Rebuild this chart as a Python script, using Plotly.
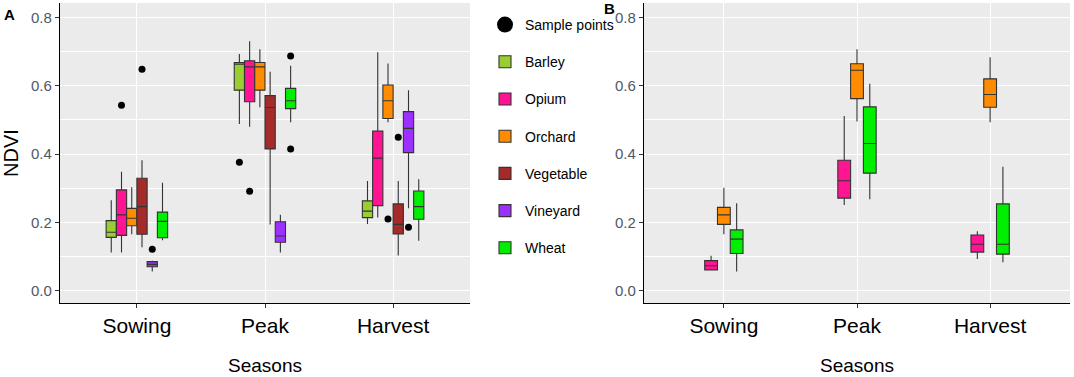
import plotly.graph_objects as go

# ---------------- data ----------------
seasons = ["Sowing", "Peak", "Harvest"]

crops_a = ["Barley", "Opium", "Orchard", "Vegetable", "Vineyard", "Wheat"]
colors = {
    "Barley": "#9ACD32",
    "Opium": "#FF1493",
    "Orchard": "#FF8C00",
    "Vegetable": "#A52A2A",
    "Vineyard": "#9B30FF",
    "Wheat": "#00EE00",
}

# Panel A statistics, rows = crops_a, columns = seasons
a_lower = [[0.112, 0.488, 0.195], [0.112, 0.480, 0.214], [0.165, 0.537, 0.493],
           [0.127, 0.194, 0.103], [0.056, 0.112, 0.241], [0.148, 0.493, 0.146]]
a_q1 = [[0.156, 0.587, 0.214], [0.162, 0.553, 0.249], [0.190, 0.587, 0.504],
        [0.165, 0.415, 0.166], [0.070, 0.142, 0.404], [0.155, 0.533, 0.209]]
a_median = [[0.171, 0.663, 0.233], [0.222, 0.655, 0.388], [0.212, 0.655, 0.556],
            [0.246, 0.536, 0.194], [0.077, 0.160, 0.475], [0.203, 0.556, 0.246]]
a_q3 = [[0.205, 0.668, 0.263], [0.295, 0.673, 0.467], [0.241, 0.668, 0.602],
        [0.329, 0.571, 0.254], [0.085, 0.202, 0.524], [0.230, 0.592, 0.292]]
a_upper = [[0.265, 0.693, 0.321], [0.348, 0.730, 0.698], [0.303, 0.707, 0.665],
           [0.382, 0.641, 0.321], [0.088, 0.222, 0.587], [0.316, 0.658, 0.326]]
a_outliers = [[[], [0.376], []], [[0.543], [0.291], []], [[], [], [0.210]],
              [[0.648], [], [0.449]], [[0.121], [], [0.186]], [[], [0.687, 0.415], []]]

# Panel B statistics, rows = crops_b, columns = seasons
crops_b = ["Opium", "Orchard", "Wheat"]
b_lower = [[0.060, 0.251, 0.093], [0.165, 0.495, 0.493], [0.056, 0.268, 0.083]]
b_q1 = [[0.061, 0.271, 0.113], [0.194, 0.562, 0.537], [0.109, 0.344, 0.107]]
b_median = [[0.073, 0.322, 0.136], [0.222, 0.645, 0.574], [0.151, 0.431, 0.136]]
b_q3 = [[0.088, 0.382, 0.163], [0.244, 0.664, 0.620], [0.178, 0.538, 0.254]]
b_upper = [[0.102, 0.511, 0.174], [0.301, 0.707, 0.683], [0.256, 0.606, 0.363]]

y_ticks = [0.0, 0.2, 0.4, 0.6, 0.8]

# ---------------- figure ----------------
W, H = 1074, 377
BASE_FONT = "Liberation Sans, Arial, sans-serif"
TICK_COLOR = "#4f5868"
LINE_COLOR = "#333333"

fig = go.Figure()

# legend-only entry for the outlier points
fig.add_trace(go.Scatter(
    x=[None], y=[None], mode="markers", name="Sample points",
    marker=dict(color="black", size=16), legendgroup="pts",
    xaxis="x", yaxis="y", hoverinfo="skip",
))

for i, crop in enumerate(crops_a):
    pts = [o if o else [None] for o in a_outliers[i]]
    fig.add_trace(go.Box(
        x=seasons, y=pts,
        q1=a_q1[i], median=a_median[i], q3=a_q3[i],
        lowerfence=a_lower[i], upperfence=a_upper[i],
        orientation="v",
        name=crop, legendgroup=crop, showlegend=True,
        offsetgroup="a" + crop, alignmentgroup="A",
        fillcolor=colors[crop],
        line=dict(color=LINE_COLOR, width=1.1),
        whiskerwidth=0,
        boxpoints="outliers", jitter=0, pointpos=0,
        marker=dict(color="black", size=7, line=dict(width=0)),
        xaxis="x", yaxis="y", hoverinfo="skip",
    ))

# panel B: pad the dodge with hidden groups so the three boxes stay centred
b_groups = ["pad0"] + crops_b + ["pad1"]
for g in b_groups:
    if g in crops_b:
        j = crops_b.index(g)
        fig.add_trace(go.Box(
            x=seasons,
            q1=b_q1[j], median=b_median[j], q3=b_q3[j],
            lowerfence=b_lower[j], upperfence=b_upper[j],
            orientation="v",
            name=g, legendgroup=g, showlegend=False,
            offsetgroup="b" + g, alignmentgroup="B",
            fillcolor=colors[g],
            line=dict(color=LINE_COLOR, width=1.1),
            whiskerwidth=0, boxpoints=False,
            xaxis="x2", yaxis="y2", hoverinfo="skip",
        ))
    else:
        fig.add_trace(go.Box(
            x=seasons, y=[None, None, None], orientation="v",
            name=g, showlegend=False, visible="legendonly",
            offsetgroup="b" + g, alignmentgroup="B",
            xaxis="x2", yaxis="y2", hoverinfo="skip",
        ))

y_dom = [(H - 303) / H, (H - 3) / H]
y_range = [-0.036, 0.842]

def x_axis(domain, anchor):
    return dict(
        domain=domain, anchor=anchor, type="category",
        categoryorder="array", categoryarray=seasons,
        range=[-0.6, 2.6],
        showgrid=True, gridcolor="white", gridwidth=1.4,
        showline=True, linecolor="black", linewidth=1.3,
        ticks="outside", ticklen=4, tickcolor=LINE_COLOR, tickwidth=1,
        tickfont=dict(family=BASE_FONT, size=21, color="black"),
        title=dict(text="Seasons", font=dict(family=BASE_FONT, size=19, color="black"),
                   standoff=22),
        zeroline=False, fixedrange=True, automargin=False,
    )

def y_axis(anchor, title):
    d = dict(
        domain=y_dom, anchor=anchor, range=y_range,
        tickvals=y_ticks, tickformat=".1f",
        showgrid=True, gridcolor="white", gridwidth=1.4,
        minor=dict(dtick=0.1, tick0=0, showgrid=True, gridcolor="white", gridwidth=0.6),
        showline=True, linecolor="black", linewidth=1.3,
        ticks="outside", ticklen=4, tickcolor=LINE_COLOR, tickwidth=1,
        tickfont=dict(family=BASE_FONT, size=15, color=TICK_COLOR),
        zeroline=False, fixedrange=True, automargin=False,
    )
    if title:
        d["title"] = dict(text=title, font=dict(family=BASE_FONT, size=20, color="black"),
                          standoff=10)
    return d

fig.update_layout(
    width=W, height=H, autosize=False,
    margin=dict(l=0, r=0, t=0, b=0, pad=0),
    paper_bgcolor="white", plot_bgcolor="#EBEBEB",
    boxmode="group", boxgap=0.52, boxgroupgap=0,
    xaxis=x_axis([60 / W, 470 / W], "y"),
    yaxis=y_axis("x", "NDVI"),
    xaxis2=x_axis([644 / W, 1070 / W], "y2"),
    yaxis2=y_axis("x2", None),
    showlegend=True,
    legend=dict(
        x=485 / W, xanchor="left", y=1 - 9 / H, yanchor="top",
        bgcolor="rgba(0,0,0,0)", borderwidth=0,
        font=dict(family=BASE_FONT, size=14, color="black"),
        tracegroupgap=16, itemsizing="trace",
    ),
    annotations=[
        dict(text="<b>A</b>", x=9 / W, y=1 - 14 / H, xref="paper", yref="paper",
             showarrow=False, xanchor="center", yanchor="middle",
             font=dict(family=BASE_FONT, size=15, color="black")),
        dict(text="<b>B</b>", x=609 / W, y=1 - 9 / H, xref="paper", yref="paper",
             showarrow=False, xanchor="center", yanchor="middle",
             font=dict(family=BASE_FONT, size=15, color="black")),
    ],
)

fig.write_html(
    "out.html",
    config={"displayModeBar": False},
    post_script="document.body.style.margin='0';document.body.style.overflow='hidden';",
)
